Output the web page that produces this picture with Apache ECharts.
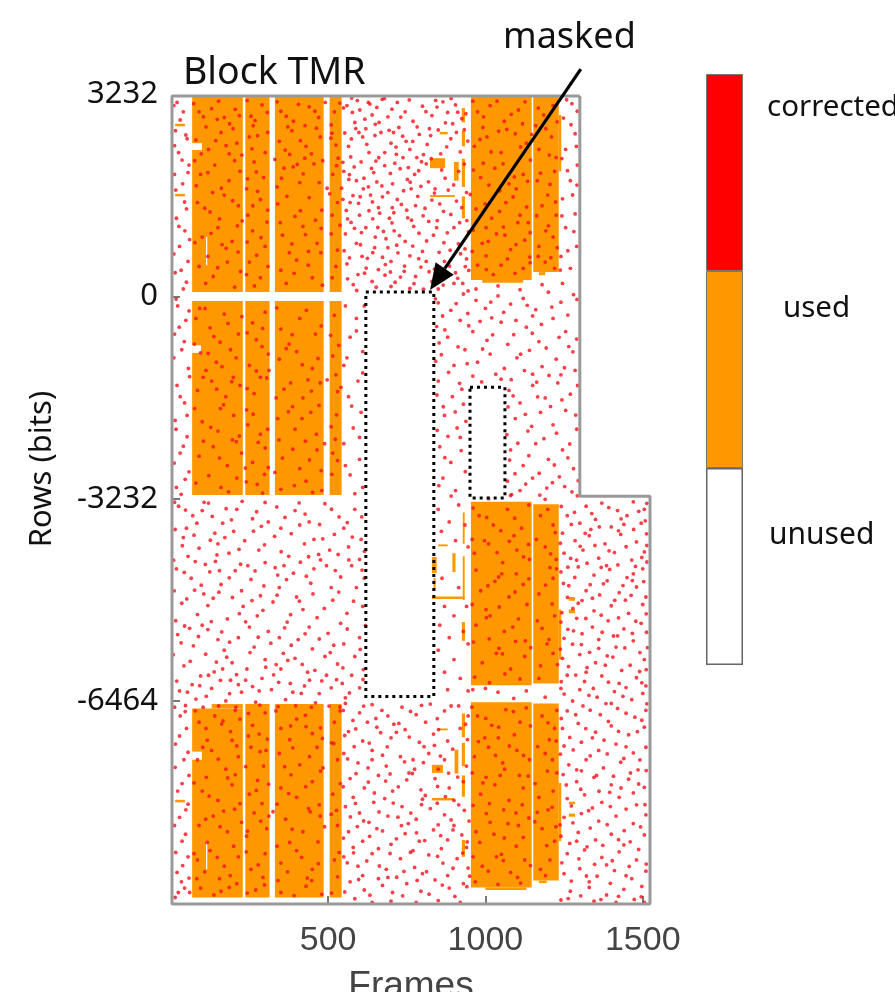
<!DOCTYPE html>
<html><head><meta charset="utf-8">
<script src="https://cdn.jsdelivr.net/npm/echarts@6/dist/echarts.min.js"></script>
<style>html,body{margin:0;padding:0;background:#fff;overflow:hidden}#c{width:895px;height:992px}</style>
</head><body><div id="c"></div>
<script>
const frameX=[1300,4,4,1523,1523,1300,1300];
const frameY=[3202,3202,-9704,-9704,-3190,-3190,3202];
const xTicks=[500,1000,1500];
const yLabels=[3232,0,-3232,-6464];
const yTicks=[0,-3232,-6464];
// used blocks: x0,x1,y0,y1
const usedBlocks=[
[68,229,72,3190],[237,314,72,3190],[331,486,72,3190],[505,543,72,3190],
[68,229,-3170,-72],[237,314,-3170,-72],[331,486,-3170,-72],[505,543,-3170,-72],
[68,229,-9600,-6580],[130,229,-6580,-6510],[237,314,-9600,-6510],[331,486,-9600,-6510],[505,543,-9600,-6510],
[954,1147,264,3190],[1152,1233,390,3190],[1233,1241,2000,2900],
[954,1147,-6210,-3280],[1152,1233,-6180,-3320],[1233,1241,-5800,-5000],
[954,1147,-9440,-6480],[1152,1233,-9330,-6500],[1233,1241,-8700,-7770]];
const usedSpots=[
[824,872,2050,2210],[925,935,2780,3010],[925,935,2400,2650],[925,935,1750,2200],[925,935,1250,1600],[824,903,1590,1620],[855,880,2590,2630],[900,915,1850,2150],
[928,934,-3950,-3450],[928,934,-4850,-4150],[830,845,-4420,-4160],[830,934,-4830,-4790],[895,905,-4400,-4100],[1265,1285,-4860,-4800],[1265,1285,-5060,-5000],[925,935,-5500,-5200],[850,880,-3990,-3960],[835,842,-4700,-4500],
[925,935,-7040,-6660],[925,935,-7500,-7130],[925,935,-7990,-7650],[830,865,-7610,-7480],[902,914,-7620,-7240],[830,900,-8050,-8010],[1265,1285,-8110,-8070],[1265,1285,-8310,-8260],[925,935,-8950,-8680],[850,880,-6930,-6900],
[14,45,2720,2760],[14,45,1600,1640],[14,45,-8080,-8040],[990,1120,220,264],[1170,1190,340,390],[1000,1130,-9480,-9440],[1170,1195,-9370,-9330]];
const gaps=[[68,99,2340,2450],[68,96,-900,-780],[68,99,-7400,-7270],[112,116,500,950],[112,116,-9150,-8700]];
const maskedRects=[[620,836,-6390,72],[951,1062,-3220,-1450]];
const arrowLine=[[1303,3633,824,104]];
const legendNames=['corrected','used','unused'];
const legendParts=[1,1,1];

const dotsTopMiddle=[560,3050,585,2780,601,2980,640,2900,655,3020,690,2870,720,3100,745,2950,770,2800,800,3040,830,2890,865,3110,880,2940,905,3060,925,2840,
565,2400,610,2550,630,2300,668,2620,700,2450,725,2700,760,2350,790,2590,815,2430,850,2660,890,2520,920,2310,
550,2000,590,1850,605,2150,645,1980,680,2090,705,1800,738,2220,775,1950,812,2120,840,1720,872,1890,915,2000,940,1660,
570,1500,600,1300,635,1620,660,1420,695,1250,720,1550,750,1380,785,1600,820,1200,855,1480,890,1310,925,1420,
555,1000,590,850,620,1100,650,950,690,780,710,1050,745,880,772,1120,800,720,835,980,868,860,900,1100,935,760,
560,520,595,350,625,610,660,430,700,560,730,310,760,650,795,470,830,240,870,560,905,380,940,600,
580,190,640,240,700,160,760,130,850,120,900,210,945,90,575,3170,620,2680,650,2750,680,2300,712,2130,755,2060,795,1760,830,1540,
612,1720,655,1830,690,1660,740,1690,765,1220,808,1410,845,1100,882,1700,918,1180,608,640,642,700,682,510,718,820,778,320,812,560,848,370,888,740,928,210,
572,2230,598,2620,628,3100,672,3150,708,2620,748,2480,782,2220,822,2680,858,2280,896,2760,938,2920,562,1240,584,1090,630,1370,676,1040,704,1420];
const dotsRightOfMask=[850,-100,890,-220,930,40,970,-60,1000,-190,1040,10,1080,-120,1120,-30,1160,-210,1200,70,1240,-90,1280,30,
845,-480,880,-650,920,-380,960,-560,1005,-700,1050,-410,1090,-610,1130,-490,1170,-720,1215,-350,1255,-560,1290,-680,
860,-930,900,-1100,935,-850,975,-1050,1015,-920,1060,-1150,1100,-980,1140,-860,1180,-1120,1225,-1000,1265,-800,1285,-1180,
850,-1350,895,-1600,925,-1480,870,-1900,910,-2100,930,-1720,855,-2400,890,-2650,920,-2250,865,-2900,905,-3100,
1075,-1500,1110,-1700,1150,-1420,1190,-1620,1230,-1380,1270,-1560,1095,-1950,1135,-2150,1175,-1850,1215,-2050,1255,-1820,1290,-2120,
1080,-2450,1120,-2700,1160,-2350,1200,-2600,1245,-2450,1280,-2750,1070,-2950,1110,-3100,1150,-2900,1195,-3060,1235,-2880,1275,-3120,
1240,640,1270,450,1290,800,1255,1100,1285,1320,1245,1560,1270,1850,1292,2100,1255,2350,1285,2600,1248,2850,1275,3080,
970,120,1040,170,1110,110,1180,190,1245,210,1020,-340,1150,-310,960,-1270,1050,-1320,1150,-1240,1240,-1250];
const dotsLeftStrip=[20,3100,40,2950,15,2650,52,2520,25,2300,58,2100,12,1950,38,1800,50,1400,18,1250,45,1050,28,800,55,560,14,380,40,120,
22,-150,48,-380,12,-600,35,-850,56,-1150,20,-1420,44,-1700,14,-1980,52,-2240,30,-2500,58,-2800,18,-3050,
30,-6700,50,-6900,15,-7150,42,-7400,58,-7650,22,-7900,48,-8200,12,-8450,36,-8700,55,-8950,20,-9200,44,-9450,60,-9520,14,-9600,34,-9350];
const dotsLeftLower=[25,-3350,70,-3500,120,-3300,165,-3620,210,-3400,260,-3550,300,-3290,350,-3700,395,-3420,440,-3600,490,-3310,535,-3520,585,-3400,
40,-3850,90,-4020,140,-3780,185,-4100,235,-3900,280,-4050,330,-3830,375,-4150,425,-3950,470,-4120,520,-3800,565,-4000,605,-3880,
18,-4350,65,-4500,110,-4280,160,-4600,205,-4380,255,-4520,300,-4250,345,-4650,390,-4420,445,-4580,495,-4300,540,-4480,590,-4650,
35,-4900,85,-5080,135,-4820,180,-5150,230,-4950,275,-5100,325,-4880,370,-5200,420,-5000,465,-5130,515,-4850,560,-5060,610,-4950,
22,-5400,72,-5580,118,-5320,170,-5650,215,-5450,265,-5600,310,-5350,358,-5700,405,-5480,450,-5630,500,-5380,550,-5550,600,-5450,
42,-5900,95,-6060,145,-5840,190,-6130,242,-5950,290,-6100,335,-5880,380,-6180,435,-6000,480,-6140,530,-5870,575,-6050,612,-5960,
28,-6300,80,-6430,130,-6260,175,-6460,225,-6320,270,-6480,320,-6280,365,-6440,415,-6340,460,-6490,510,-6250,555,-6410,
50,-3700,100,-3420,150,-3950,200,-3750,245,-4300,310,-3600,360,-4300,410,-3650,455,-3880,505,-4050,550,-3700,600,-4200,
55,-4150,105,-4750,155,-4380,225,-4700,285,-4780,340,-4450,400,-4800,455,-4350,510,-4650,575,-4300,615,-4500,
60,-5300,100,-5250,150,-5480,195,-5850,250,-5280,300,-5800,345,-5450,395,-5780,440,-5280,490,-5750,540,-5220,585,-5750,
68,-6200,120,-6050,165,-5950,215,-6200,260,-6230,350,-5950,425,-6220,495,-6050,545,-6180,600,-6250];
const dotsCentreStrip=[555,-150,590,-350,570,-650,610,-880,550,-1100,595,-1350,565,-1600,605,-1850,580,-2100,550,-2350,600,-2600,570,-2850,610,-3050,
590,-550,560,-980,610,-1220,575,-1750,600,-2250,555,-2700,585,-3150,615,-150,
850,-3400,885,-3600,915,-3330,860,-3750,905,-3900,935,-3650,945,-4000,862,-4500,915,-4650,870,-4950,900,-5100,940,-4950,855,-5250,885,-5450,930,-5350,
850,-5650,900,-5800,945,-5550,870,-6000,920,-6100,880,-6280,945,-6300,
1010,-3230,1080,-3180,1190,-3240,1240,-6260,1130,-6300,1040,-6320,960,-6280,1190,-6400,1090,-6420,1000,-6260];
const dotsRightLower=[1320,-3350,1370,-3300,1420,-3420,1470,-3280,1505,-3400,1260,-3500,1300,-3620,1350,-3560,1400,-3680,1450,-3500,1495,-3620,
1245,-3780,1285,-3900,1330,-3820,1380,-3950,1430,-3800,1480,-3920,1512,-3790,1250,-4100,1310,-4050,1360,-4180,1410,-4090,1465,-4210,1505,-4080,
1240,-4400,1295,-4320,1345,-4450,1395,-4360,1450,-4490,1500,-4350,1265,-4620,1320,-4700,1375,-4590,1425,-4730,1480,-4640,1510,-4800,
1295,-4900,1345,-5020,1400,-4940,1455,-5060,1500,-4920,1240,-5200,1290,-5140,1340,-5280,1390,-5180,1440,-5310,1495,-5220,
1250,-5460,1305,-5560,1360,-5480,1415,-5600,1470,-5500,1515,-5610,1245,-5780,1300,-5720,1350,-5850,1405,-5760,1460,-5890,1505,-5800,
1260,-6050,1315,-6150,1370,-6060,1425,-6180,1480,-6090,1510,-6220,1250,-6350,1300,-6280,1355,-6400,1410,-6310,1465,-6440,1500,-6340,
1260,-6620,1310,-6540,1365,-6680,1420,-6580,1475,-6720,1510,-6610,1245,-6900,1295,-6820,1350,-6960,1400,-6860,1455,-7000,1505,-6880,
1250,-7180,1305,-7120,1360,-7250,1415,-7150,1470,-7290,1510,-7200,1265,-7480,1320,-7400,1375,-7530,1430,-7440,1485,-7560,
1290,-7750,1345,-7680,1400,-7800,1455,-7710,1505,-7840,1260,-8020,1315,-7960,1370,-8080,1425,-8000,1480,-8120,
1250,-8320,1305,-8260,1360,-8380,1415,-8300,1470,-8420,1510,-8280,1240,-8620,1295,-8560,1350,-8680,1400,-8590,1460,-8710,1505,-8600,
1260,-8900,1315,-8840,1370,-8960,1425,-8870,1480,-9000,1250,-9220,1300,-9140,1355,-9260,1410,-9170,1465,-9300,1510,-9180,
1270,-9500,1330,-9440,1385,-9560,1440,-9470,1495,-9590,1240,-9640,1345,-9660,1415,-9680,1505,-9680,
1335,-3720,1440,-3640,1290,-4210,1385,-4300,1470,-4430,1340,-4820,1445,-4850,1280,-5340,1420,-5420,1360,-5620,1320,-6000,1490,-5990,1400,-6500,1340,-7050,1440,-7380,1290,-7560,1395,-7920,1470,-7930,1340,-8170,1290,-8700,1440,-8760,1385,-9080,1330,-9350];
const dotsLowerMiddle=[555,-6500,600,-6650,640,-6520,690,-6700,735,-6560,780,-6680,825,-6510,870,-6620,915,-6540,945,-6700,
565,-6950,610,-7100,655,-6880,700,-7050,745,-6920,790,-7120,835,-6990,880,-7100,920,-6900,
550,-7300,595,-7450,640,-7250,685,-7500,730,-7350,775,-7550,820,-7300,870,-7400,940,-7500,
570,-7700,615,-7850,660,-7650,705,-7900,750,-7720,795,-7880,840,-7700,885,-7850,930,-7750,
555,-8150,600,-8250,645,-8080,690,-8300,735,-8150,780,-8350,825,-8180,870,-8280,915,-8120,948,-8380,
565,-8550,610,-8700,655,-8500,700,-8750,745,-8580,790,-8700,835,-8520,880,-8680,925,-8600,
550,-8950,595,-9100,640,-8900,685,-9150,730,-8980,775,-9120,820,-8920,865,-9050,910,-8980,945,-9130,
570,-9350,615,-9480,660,-9300,705,-9520,750,-9380,795,-9500,840,-9320,885,-9450,930,-9380,
585,-9620,640,-9680,700,-9660,780,-9680,850,-9650,920,-9680,
625,-6800,725,-6820,810,-6800,640,-7400,770,-7400,850,-7550,580,-8000,680,-8020,800,-8030,900,-8050,630,-8400,755,-8420,850,-8440,900,-8450,
580,-8800,660,-8820,770,-8850,860,-8820,940,-8800,610,-9250,690,-9280,800,-9220,880,-9250,950,-9260];
const dotsOnLeftBlocks=[90,2950,130,3000,170,2860,205,2990,255,2880,290,3060,350,2960,390,2800,440,3030,470,2860,520,2950,
80,2500,120,2350,160,2620,210,2450,250,2550,300,2300,345,2480,385,2650,430,2400,475,2550,525,2420,
95,1950,140,2100,185,1850,220,2000,265,2150,295,1900,360,2050,410,1820,455,2120,515,1950,
85,1500,125,1350,170,1620,215,1450,245,1300,285,1550,340,1480,395,1280,440,1580,480,1380,530,1500,
100,950,150,1100,195,880,260,1050,300,800,355,980,420,1120,465,850,510,1000,
90,480,135,320,180,550,222,400,250,550,285,300,350,420,400,580,450,300,525,480,
80,-350,125,-500,170,-280,215,-600,260,-420,300,-250,350,-520,410,-350,460,-600,520,-300,
95,-900,145,-1050,190,-850,250,-1100,290,-800,345,-1000,400,-880,450,-1150,515,-950,
85,-1500,130,-1350,175,-1600,220,-1420,265,-1550,305,-1300,360,-1480,420,-1620,475,-1380,530,-1520,
100,-2000,150,-2150,200,-1900,245,-2050,285,-2200,340,-1950,395,-2120,445,-1850,510,-2080,
90,-2550,135,-2400,180,-2700,225,-2500,260,-2650,300,-2420,355,-2580,410,-2750,465,-2450,530,-2620,
80,-2980,160,-3050,210,-2900,275,-3000,350,-3080,430,-2950,480,-3100,
90,-6800,140,-6700,190,-6950,220,-6750,260,-6850,300,-6650,350,-6900,400,-6750,450,-6980,520,-6800,
85,-7400,130,-7250,175,-7550,215,-7350,255,-7200,295,-7500,345,-7300,410,-7480,465,-7200,530,-7400,
100,-7900,150,-8050,195,-7800,250,-7950,290,-8100,350,-7850,400,-8000,450,-7750,515,-7950,
90,-8450,135,-8300,180,-8550,225,-8400,265,-8250,305,-8500,365,-8350,420,-8550,475,-8300,530,-8450,
85,-9000,125,-8850,170,-9100,215,-8950,255,-9150,300,-8900,350,-9050,400,-8850,450,-9150,520,-9000,
95,-9450,160,-9500,210,-9380,270,-9480,350,-9520,430,-9420,480,-9550];
const dotsOnRightBlocks=[975,2950,1015,3050,1060,2800,1105,2980,1185,2900,1215,3050,
965,2400,1005,2550,1050,2300,1095,2600,1130,2450,1170,2350,1210,2550,
985,1900,1030,2050,1075,1800,1120,1950,1165,1850,1220,2000,
970,1400,1020,1250,1065,1500,1110,1300,1180,1450,1225,1300,
990,850,1035,1000,1080,750,1125,900,1170,800,1215,950,
975,500,1025,350,1070,600,1120,450,1190,550,
980,-3500,1025,-3650,1070,-3400,1115,-3700,1175,-3500,1215,-3650,
965,-4100,1010,-3950,1055,-4250,1100,-4050,1140,-4200,1190,-4000,1225,-4200,
985,-4700,1030,-4550,1075,-4800,1120,-4600,1170,-4750,1215,-4500,
970,-5250,1015,-5100,1060,-5350,1105,-5150,1180,-5300,1220,-5100,
990,-5850,1035,-5700,1080,-5950,1125,-5750,1175,-5900,1215,-5700,
975,-6700,1020,-6850,1065,-6600,1110,-6800,1180,-6700,1220,-6900,
965,-7350,1010,-7200,1055,-7450,1100,-7250,1140,-7400,1190,-7300,1225,-7100,
985,-7950,1030,-7800,1075,-8050,1120,-7850,1170,-8000,1215,-7900,
970,-8550,1015,-8400,1060,-8650,1105,-8450,1180,-8500,1220,-8700,
990,-9100,1035,-8950,1080,-9200,1125,-9000,1175,-9150,1205,-9000];
const moreTop=[549,3012,577,2941,593,3130,617,2833,633,3074,662,2781,679,3163,703,2992,731,2867,758,3141,783,2710,811,2953,846,3027,873,2774,912,2945,
553,2612,574,2517,588,2683,623,2431,649,2572,661,2218,694,2655,716,2387,737,2561,769,2478,803,2266,826,2571,877,2391,908,2622,944,2483,
547,2143,568,1946,583,2071,614,1891,652,2163,671,1767,698,1966,729,2041,761,1827,788,2009,819,1833,861,2021,899,1782,933,2115,
543,1731,579,1612,597,1489,628,1753,641,1511,673,1593,709,1338,733,1471,764,1721,778,1452,802,1289,838,1653,867,1361,908,1525,941,1214,
558,1376,573,1183,606,1022,642,1241,658,1103,684,923,703,1176,727,973,753,1257,789,1011,813,887,847,1213,879,1017,914,842,946,1033,
551,731,568,618,603,827,621,454,648,781,673,627,698,392,722,698,743,487,769,806,788,604,821,396,853,706,886,487,921,683,947,417,
562,283,591,96,616,373,653,148,681,341,713,228,742,402,773,206,803,118,838,438,866,183,912,291,936,478,
547,1552,566,1871,602,1594,638,2047,664,1332,717,2271,752,1871,797,2153,828,2201,842,3132,891,3163,933,2665];
const moreRight=[841,-37,864,-311,907,-112,944,-271,983,-398,1017,-88,1058,-253,1097,-381,1133,-141,1178,-446,1211,-168,1262,-296,1291,-47,
853,-742,871,-533,913,-803,947,-467,991,-838,1023,-612,1071,-764,1112,-921,1149,-587,1193,-822,1234,-651,1278,-884,
842,-1032,883,-1211,918,-1387,942,-1072,988,-1364,1033,-1241,1082,-1329,1124,-1183,1163,-1366,1202,-1261,1251,-1138,1293,-1421,
846,-1573,866,-1761,904,-1843,938,-1994,881,-2233,847,-2137,923,-2461,871,-2574,936,-2798,852,-3021,891,-3188,
1072,-1763,1088,-1587,1127,-1882,1166,-1603,1207,-1758,1243,-1651,1287,-1893,1068,-2207,1103,-2344,1147,-2073,1186,-2271,1226,-2183,1268,-2356,
1077,-2612,1094,-2831,1138,-2542,1171,-2823,1219,-2691,1262,-2576,1295,-2941,1083,-3163,1128,-2996,1173,-3172,1213,-2973,1252,-3036,1292,-3183,
1238,423,1262,731,1281,1037,1243,1287,1277,1622,1291,1781,1261,2011,1243,2203,1289,2397,1272,2744,1292,2961,1258,3143];
const moreLeftLower=[12,-3286,47,-3412,83,-3621,106,-3287,132,-3513,176,-3389,193,-3567,227,-3272,273,-3438,288,-3671,337,-3361,363,-3529,408,-3297,427,-3476,473,-3642,511,-3398,561,-3611,607,-3521,
14,-3722,37,-3981,74,-3813,126,-3893,147,-4127,172,-3851,217,-4038,263,-3748,298,-3967,351,-4077,383,-3789,438,-4157,483,-3871,532,-4121,577,-3842,616,-4071,
9,-4212,43,-4407,78,-4234,97,-4611,124,-4397,142,-4231,186,-4493,222,-4277,268,-4383,296,-4623,332,-4331,368,-4521,412,-4243,431,-4467,476,-4208,523,-4377,566,-4207,608,-4369,
11,-4702,51,-4831,76,-4691,118,-4937,153,-4723,196,-4808,218,-5067,258,-4857,293,-5012,338,-4771,381,-5082,409,-4867,452,-4751,488,-4983,534,-4721,581,-4867,
16,-5179,44,-5263,88,-5431,129,-5193,162,-5358,187,-5521,238,-5197,278,-5443,318,-5537,362,-5293,383,-5571,427,-5388,472,-5471,518,-5571,561,-5311,619,-5252,
8,-5721,33,-5532,62,-5827,111,-5713,138,-5997,178,-5761,209,-6041,252,-5687,302,-5921,327,-6043,372,-5813,418,-5877,458,-5971,507,-5687,547,-5933,602,-5637,
19,-6143,53,-6321,92,-6217,113,-6387,158,-6131,187,-6344,238,-6129,281,-6301,343,-6163,388,-6321,441,-6128,472,-6343,527,-6121,568,-6332,611,-6118,
47,-6533,103,-6561,152,-6541,207,-6558,283,-6527,341,-6552,397,-6538,447,-6561,503,-6543,538,-6557];
const moreLowerMiddle=[548,-6611,579,-6772,613,-6543,652,-6741,671,-6612,709,-6833,762,-6627,797,-6531,847,-6743,891,-6541,937,-6833,
553,-7012,588,-6907,631,-7133,667,-6967,688,-7193,717,-6961,758,-7037,805,-7191,851,-6917,896,-7231,943,-7077,
562,-7387,583,-7191,627,-7531,673,-7327,697,-7627,743,-7433,757,-7611,803,-7447,838,-7171,857,-7341,883,-7613,
548,-7831,589,-7622,628,-7757,647,-7931,683,-7741,723,-7833,768,-7619,809,-7971,848,-7827,873,-7989,912,-7677,
571,-8313,587,-8097,613,-8377,662,-8233,707,-8091,722,-8317,763,-8251,797,-8117,847,-8093,891,-8361,933,-8207,
549,-8651,593,-8467,632,-8623,673,-8537,717,-8663,733,-8451,781,-8567,807,-8691,858,-8613,897,-8521,942,-8713,
561,-9047,581,-8887,623,-9017,663,-9097,697,-8897,741,-9183,762,-8877,813,-9187,848,-8943,897,-9133,928,-8891,
553,-9511,597,-9313,633,-9563,673,-9407,718,-9277,737,-9573,783,-9327,821,-9547,863,-9401,903,-9583,941,-9427];
const moreRightLower=[1241,-3353,1283,-3448,1338,-3467,1392,-3372,1431,-3551,1487,-3431,1513,-3303,1273,-3641,1317,-3783,1362,-3681,1423,-3743,1471,-3721,1508,-3583,
1238,-3941,1271,-4183,1301,-3991,1348,-3977,1393,-4063,1447,-3997,1497,-4167,1513,-3977,1262,-4323,1323,-4261,1368,-4327,1421,-4287,1477,-4311,1513,-4241,
1248,-4583,1284,-4487,1333,-4603,1387,-4541,1437,-4617,1467,-4537,1503,-4553,1261,-4807,1307,-4857,1363,-4767,1411,-4853,1463,-4773,
1243,-5051,1278,-4983,1319,-5143,1368,-5091,1423,-5133,1478,-5187,1511,-5069,1262,-5317,1307,-5387,1371,-5363,1407,-5423,1467,-5381,1512,-5363,
1238,-5631,1277,-5553,1331,-5683,1387,-5741,1443,-5613,1491,-5687,1264,-5911,1323,-5927,1381,-5889,1433,-5973,1511,-5961,
1241,-6153,1287,-6047,1343,-6261,1391,-6161,1447,-6247,1497,-6171,1277,-6461,1329,-6371,1383,-6503,1437,-6387,1513,-6507,
1241,-6741,1287,-6681,1333,-6607,1391,-6787,1447,-6657,1497,-6767,1268,-7043,1319,-6903,1377,-7087,1423,-6947,1483,-6951,
1238,-7311,1279,-7243,1333,-7337,1387,-7307,1447,-7193,1491,-7403,1247,-7637,1305,-7577,1353,-7651,1407,-7663,1461,-7611,1511,-7573,
1257,-7803,1303,-7871,1361,-7903,1431,-7851,1487,-7787,1273,-8137,1328,-8213,1397,-8147,1447,-8187,1507,-8117,
1237,-8441,1278,-8407,1333,-8491,1387,-8437,1441,-8533,1493,-8473,1268,-8737,1323,-8791,1373,-8767,1423,-8677,1487,-8833,
1243,-9047,1297,-8983,1347,-9071,1403,-9013,1457,-9103,1511,-9067,1273,-9337,1321,-9257,1397,-9373,1447,-9253,1497,-9423,
1263,-9617,1303,-9573,1367,-9633,1423,-9581,1473,-9631];
const moreLeftStrip=[10,3050,30,2820,48,2580,12,2410,36,2180,55,1980,16,1700,44,1510,26,1120,60,910,10,680,33,420,50,230,
17,-40,58,-230,27,-490,43,-720,10,-980,60,-1280,30,-1600,52,-1900,17,-2120,40,-2390,11,-2660,46,-2920,33,-3160,
12,-6560,46,-6630,28,-7020,55,-7280,14,-7520,36,-7780,55,-8110,28,-8320,47,-8590,16,-8880,38,-9090,58,-9290,24,-9520];
const moreOnLeft=[112,2710,148,2830,198,2680,262,2730,276,2570,372,2710,412,2490,463,2690,510,2740,532,2210,
76,2170,133,1660,186,2280,241,1720,276,1680,338,1750,378,2270,426,2210,497,1730,513,1300,
118,640,163,830,214,710,273,660,306,1190,377,700,438,720,478,1090,530,740,
109,-190,157,-730,199,-1290,272,-690,312,-1180,376,-760,436,-1330,471,-1740,525,-1250,
112,-1180,158,-1790,208,-2320,241,-1810,298,-2840,387,-1760,428,-2310,478,-2780,523,-2280,
116,-7090,162,-6830,210,-7180,247,-7020,303,-7250,378,-7080,430,-6870,482,-7060,518,-7140,
113,-7680,168,-8220,205,-7640,276,-7730,312,-8300,382,-7640,438,-8180,476,-7580,527,-8210,
116,-8720,155,-9300,200,-8780,241,-8620,293,-9280,378,-8720,434,-9290,468,-8710,530,-9270];
const moreOnRight=[992,2700,1042,2640,1118,2760,1160,2730,1203,2260,993,2130,1046,1690,1098,1720,1143,2180,1198,1620,
1002,1100,1057,1110,1136,1180,1200,1130,1002,650,1097,830,1141,630,1208,620,
997,-3900,1042,-4480,1091,-3820,1137,-3960,1205,-4330,1002,-5000,1043,-5620,1098,-4430,1127,-5500,1202,-5480,
998,-7050,1041,-7050,1092,-7000,1130,-6570,1203,-7080,1002,-7680,1047,-7650,1097,-8250,1136,-7660,1199,-8200,
1003,-8260,1051,-8910,1098,-8780,1138,-8330,1195,-8770];
const extraOnLeft=[73,3080,104,2870,152,3120,187,2760,218,2890,243,3130,268,2810,307,2940,338,3110,367,2880,406,3070,427,2730,458,2960,491,3100,512,2610,537,3090,
97,2280,143,2490,176,2410,226,2260,258,2360,308,2620,331,2190,364,2340,402,2110,447,2280,483,2170,509,2530,
81,1770,118,1980,161,1730,203,2170,244,1880,272,1990,352,1890,389,2070,421,1960,472,1820,527,2090,
108,1410,155,1240,197,1530,227,1210,261,1450,308,1380,369,1600,412,1370,460,1220,505,1640,
77,860,128,1010,176,770,212,1130,243,870,287,940,348,1180,385,840,428,990,477,700,538,1140,
111,210,149,460,203,150,241,350,266,170,309,480,367,210,392,370,437,500,482,180,513,300,
92,-190,137,-640,182,-430,226,-320,243,-580,292,-510,337,-180,386,-610,431,-220,478,-470,508,-620,
75,-760,119,-910,163,-1120,208,-980,272,-1190,310,-920,367,-830,418,-1090,468,-990,534,-780,
103,-1290,146,-1480,194,-1360,243,-1470,285,-1290,335,-1620,381,-1380,447,-1510,497,-1330,541,-1450,
76,-1790,127,-2090,168,-1730,218,-2230,262,-1880,308,-2120,374,-1840,417,-1950,463,-2200,527,-1890,
104,-2310,155,-2580,196,-2290,237,-2740,278,-2330,310,-2730,344,-2290,388,-2440,441,-2610,489,-2350,515,-2500,
121,-2860,184,-3120,240,-2960,292,-3140,331,-2810,393,-3020,451,-3130,512,-2840,
78,-6620,112,-6900,166,-6780,205,-6610,247,-6660,281,-6990,334,-6620,381,-6860,428,-6690,476,-6890,538,-6620,
102,-7200,151,-7390,195,-7090,238,-7510,284,-7270,307,-7070,362,-7510,388,-7210,441,-7350,484,-7530,511,-7130,
74,-7770,122,-7980,181,-7690,220,-8100,272,-7890,311,-7790,338,-8110,375,-7940,429,-7830,472,-8120,539,-7780,
111,-8350,157,-8470,203,-8190,244,-8540,286,-8380,325,-8230,386,-8510,443,-8230,489,-8470,510,-8270,
74,-8900,108,-9190,148,-8960,189,-9250,240,-8870,278,-9080,338,-8780,371,-9190,416,-8960,469,-9060,535,-8880,
83,-9300,137,-9560,186,-9440,243,-9530,298,-9400,341,-9330,392,-9570,448,-9330,511,-9530];
const extraOnRight=[960,3120,994,2870,1037,3120,1082,2910,1126,3110,1168,3010,1228,2790,
983,2510,1018,2310,1068,2670,1112,2390,1147,2590,1192,2680,1225,2220,
962,2020,1011,1780,1056,2120,1092,1910,1134,1840,1175,1970,1205,1790,
952,1630,999,1480,1045,1360,1088,1590,1131,1430,1163,1290,1223,1510,
961,1060,1009,880,1062,980,1103,1180,1142,1020,1192,1050,1228,780,
958,720,1003,430,1050,500,1094,370,1142,540,1168,640,1220,450,
961,-3380,1004,-3530,1049,-3740,1093,-3540,1138,-3330,1198,-3400,1222,-3770,
958,-3880,1037,-4090,1076,-3910,1121,-4160,1162,-3880,1207,-4110,
970,-4370,1008,-4620,1052,-4430,1094,-4720,1138,-4510,1191,-4610,1226,-4350,
958,-4920,1003,-5130,1044,-4960,1087,-5280,1132,-4920,1165,-5180,1212,-4910,
962,-5520,1012,-5470,1054,-5710,1096,-5510,1144,-5610,1196,-5550,1229,-5880,
966,-6080,1013,-6170,1062,-6030,1110,-6110,1170,-6100,
957,-6560,1001,-6740,1042,-6880,1089,-6630,1143,-6860,1199,-6810,1227,-6610,
978,-7110,1032,-7330,1076,-7180,1121,-7330,1166,-7190,1213,-7400,
958,-7610,992,-7770,1061,-7550,1108,-7650,1158,-7780,1197,-7580,1227,-7610,
961,-8130,1013,-8100,1058,-8200,1117,-8120,1165,-8240,1212,-8160,
982,-8720,1027,-8590,1072,-8420,1120,-8640,1157,-8390,1224,-8470,
961,-8950,1009,-9180,1057,-9010,1102,-9280,1143,-9090,1191,-9250,968,-9350,1040,-9390,1112,-9370];
const allDots=[dotsTopMiddle,dotsRightOfMask,dotsLeftStrip,dotsLeftLower,dotsCentreStrip,dotsRightLower,dotsLowerMiddle,dotsOnLeftBlocks,dotsOnRightBlocks,moreTop,moreRight,moreLeftLower,moreLowerMiddle,moreRightLower,moreLeftStrip,moreOnLeft,moreOnRight,extraOnLeft,extraOnRight];

const corrected=[];
allDots.forEach(a=>{for(let i=0;i<a.length;i+=2)corrected.push([a[i],a[i+1]]);});

const RED='#f5101c',ORANGE='#ff9800',FONT='"Noto Sans",sans-serif',GRAY='"Liberation Sans",sans-serif';
function rectItem(fill){return (p,api)=>{
  const a=api.coord([api.value(0),api.value(2)]),b=api.coord([api.value(1),api.value(3)]);
  return {type:'rect',shape:{x:a[0],y:b[1],width:b[0]-a[0],height:a[1]-b[1]},style:{fill}};};}
function boxItem(p,api){
  const a=api.coord([api.value(0),api.value(2)]),b=api.coord([api.value(1),api.value(3)]);
  return {type:'rect',shape:{x:a[0],y:b[1],width:b[0]-a[0],height:a[1]-b[1]},
    style:{fill:null,stroke:'#000',lineWidth:3,lineDash:[3,4]}};}
function arrowItem(p,api){
  const s=api.coord([api.value(0),api.value(1)]),t=api.coord([api.value(2),api.value(3)]);
  const ang=Math.atan2(t[1]-s[1],t[0]-s[0]),L=26,W=11;
  const bx=t[0]-L*Math.cos(ang),by=t[1]-L*Math.sin(ang);
  const nx=-Math.sin(ang),ny=Math.cos(ang);
  return {type:'group',children:[
    {type:'line',shape:{x1:s[0],y1:s[1],x2:bx,y2:by},style:{stroke:'#000',lineWidth:3.2}},
    {type:'polygon',shape:{points:[[t[0],t[1]],[bx+nx*W,by+ny*W],[bx-nx*W,by-ny*W]]},style:{fill:'#000'}}]};}
const customBase={type:'custom',xAxisIndex:0,yAxisIndex:0,clip:false,silent:true,encode:{x:[0,1],y:[2,3]}};

const chart=echarts.init(document.getElementById('c'),null,{renderer:'canvas'});
chart.setOption({
  animation:false,backgroundColor:'#fff',
  title:{text:'Block TMR',left:183,top:54,padding:0,textStyle:{fontFamily:FONT,fontWeight:'normal',fontSize:37.5,color:'#111'}},
  grid:[{left:172,top:94.2,width:478,height:809.8,outerBoundsMode:'none'},{left:706,top:74,width:37,height:591,outerBoundsMode:'none'}],
  xAxis:[{type:'value',min:4,max:1523,splitLine:{show:false},axisLine:{show:false,onZero:false},
      axisTick:{show:true,inside:true,length:8,customValues:xTicks,lineStyle:{color:'#777',width:2}},
      axisLabel:{customValues:xTicks,margin:20,formatter:v=>String(v),fontFamily:GRAY,fontSize:34,color:'#444'},
      name:'Frames',nameLocation:'middle',nameGap:64,nameTextStyle:{fontFamily:GRAY,fontSize:37,color:'#444'}},
    {type:'category',gridIndex:1,data:['scale'],show:false}],
  yAxis:[{type:'value',min:-9704,max:3232,splitLine:{show:false},axisLine:{show:false,onZero:false},
      axisTick:{show:true,inside:true,length:8,customValues:yTicks,lineStyle:{color:'#777',width:2}},
      axisLabel:{customValues:yLabels,margin:14,formatter:v=>String(v),fontFamily:FONT,fontSize:31,color:'#111'}},
    {type:'value',gridIndex:1,min:0,max:3,show:false}],
  graphic:[
    {type:'text',x:42,y:469,rotation:Math.PI/2,style:{text:'Rows (bits)',fontFamily:FONT,fontSize:31,fill:'#111',align:'center',verticalAlign:'middle'}},
    {type:'text',x:503,y:38,style:{text:'masked',fontFamily:FONT,fontSize:36,fill:'#111',verticalAlign:'middle'}},
    {type:'text',x:767,y:108,style:{text:legendNames[0],fontFamily:FONT,fontSize:29.5,fill:'#111',verticalAlign:'middle'}},
    {type:'text',x:783,y:309,style:{text:legendNames[1],fontFamily:FONT,fontSize:29.5,fill:'#111',verticalAlign:'middle'}},
    {type:'text',x:769,y:535,style:{text:legendNames[2],fontFamily:FONT,fontSize:30,fill:'#111',verticalAlign:'middle'}}
  ],
  series:[
    Object.assign({},customBase,{data:usedBlocks,renderItem:rectItem(ORANGE),z:2}),
    Object.assign({},customBase,{data:usedSpots,renderItem:rectItem(ORANGE),z:2}),
    Object.assign({},customBase,{data:gaps,renderItem:rectItem('#fff'),z:3}),
    {type:'scatter',data:corrected,symbol:'circle',symbolSize:3.8,itemStyle:{color:RED},silent:true,z:4,large:false},
    {type:'line',data:frameX.map((x,i)=>[x,frameY[i]]),showSymbol:false,silent:true,clip:false,z:5,lineStyle:{color:'#999',width:3}},
    Object.assign({},customBase,{data:maskedRects,renderItem:boxItem,z:6}),
    Object.assign({},customBase,{data:arrowLine,encode:{x:[0,2],y:[1,3]},renderItem:arrowItem,z:7}),
    {type:'bar',xAxisIndex:1,yAxisIndex:1,stack:'k',barWidth:'100%',silent:true,data:[legendParts[2]],itemStyle:{color:'#fff',borderColor:'#666',borderWidth:1.5}},
    {type:'bar',xAxisIndex:1,yAxisIndex:1,stack:'k',barWidth:'100%',silent:true,data:[legendParts[1]],itemStyle:{color:ORANGE,borderColor:'#777',borderWidth:1}},
    {type:'bar',xAxisIndex:1,yAxisIndex:1,stack:'k',barWidth:'100%',silent:true,data:[legendParts[0]],itemStyle:{color:'#ff0000',borderColor:'#777',borderWidth:1}}
  ]
});
</script></body></html>
